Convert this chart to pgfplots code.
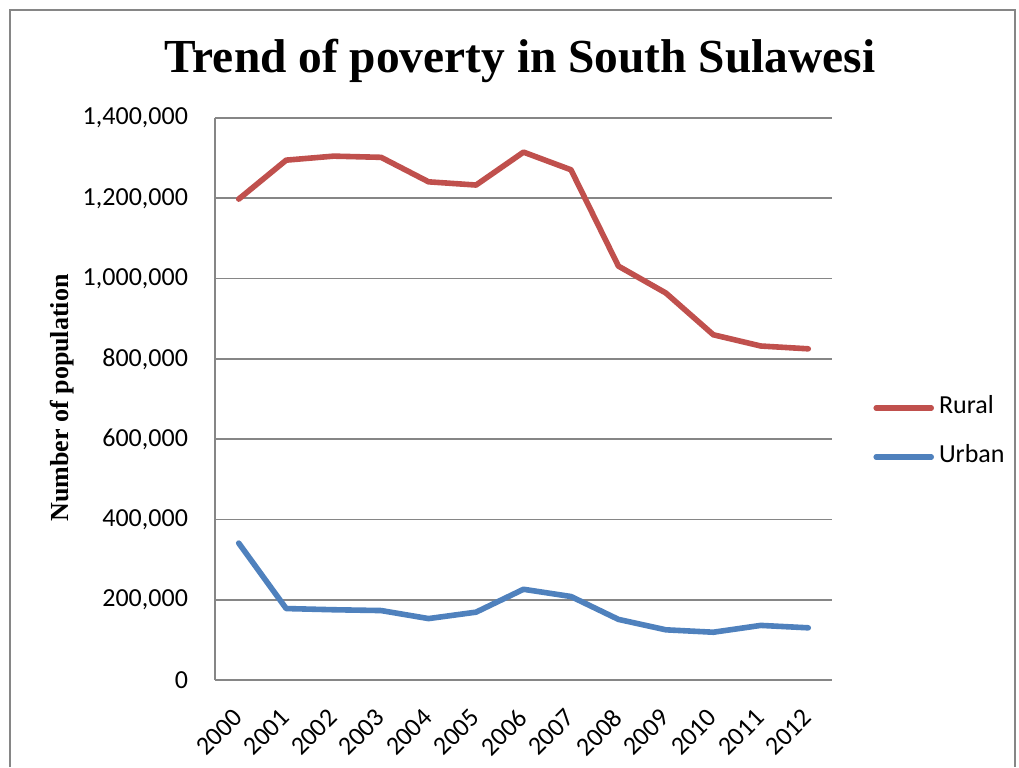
\documentclass[border=0pt]{standalone}
\usepackage{pgfplots}
\pgfplotsset{compat=1.18}
\usepackage{fontspec}
\setmainfont{Carlito}
\newfontfamily\tnr{Liberation Serif}
\definecolor{rural}{HTML}{C0504D}
\definecolor{urban}{HTML}{4F81BD}
\definecolor{gridc}{HTML}{868686}
\begin{document}
\begin{tikzpicture}
\useasboundingbox (0,0) rectangle (509.5pt,383.5pt);
\fill[white] (0,0) rectangle (509.5pt,383.5pt);
\draw[gridc, line width=0.8pt] (5pt,0pt) -- (5pt,378.5pt) -- (507.5pt,378.5pt) -- (507.5pt,0pt);
\node[anchor=base, font=\tnr\bfseries\fontsize{23.7}{28}\selectfont] at (260pt,347pt) {Trend of poverty in South Sulawesi};
\node[rotate=90, font=\tnr\bfseries\fontsize{13}{15}\selectfont] at (31pt,184.5pt) {Number of population};
\begin{axis}[
  at={(107.5pt,43.5pt)}, anchor=south west,
  scale only axis, width=308.5pt, height=281pt,
  xmin=-0.5, xmax=12.5, ymin=0, ymax=1400000,
  xtick={0,...,12},
  xticklabels={2000,2001,2002,2003,2004,2005,2006,2007,2008,2009,2010,2011,2012},
  ytick={0,200000,400000,600000,800000,1000000,1200000,1400000},
  scaled y ticks=false,
  /pgf/number format/fixed, /pgf/number format/1000 sep={,},
  /pgf/number format/assume math mode=true,
  yticklabel style={xshift=-10pt, font=\fontsize{13}{15}\selectfont},
  xticklabel style={xshift=-3.5pt, yshift=-8.8pt, rotate=45, anchor=north east, font=\fontsize{13}{15}\selectfont},
  major tick length=0pt,
  axis x line*=bottom, axis y line*=left,
  axis line style={gridc, line width=0.8pt, -},
  ymajorgrids, grid style={gridc, line width=0.8pt},
  legend style={at={(1.0665,0.4404)}, anchor=west, draw=none, fill=none, inner sep=0pt,
    font=\fontsize{13}{15}\selectfont, row sep=12.5pt,
    nodes={text height=9pt, text depth=3pt, inner sep=0pt, outer sep=0pt}},
  legend cell align=left,
  legend image code/.code={\draw[#1, line width=2.8pt] (0pt,0pt) -- (27.5pt,0pt);},
]
\addplot[rural, line width=2.8pt, line join=round, line cap=round] coordinates {
(0,1198000) (1,1295000) (2,1305000) (3,1302000) (4,1241000) (5,1233000) (6,1315000)
(7,1271000) (8,1031000) (9,964000) (10,860000) (11,832000) (12,825000)};
\addlegendentry{\hspace{2.5pt}Rural}
\addplot[urban, line width=2.8pt, line join=round, line cap=round] coordinates {
(0,341000) (1,178000) (2,175000) (3,173000) (4,153000) (5,169000) (6,226000)
(7,208000) (8,151000) (9,125000) (10,119000) (11,136000) (12,130000)};
\addlegendentry{\hspace{2.5pt}Urban}
\end{axis}
\end{tikzpicture}
\end{document}
